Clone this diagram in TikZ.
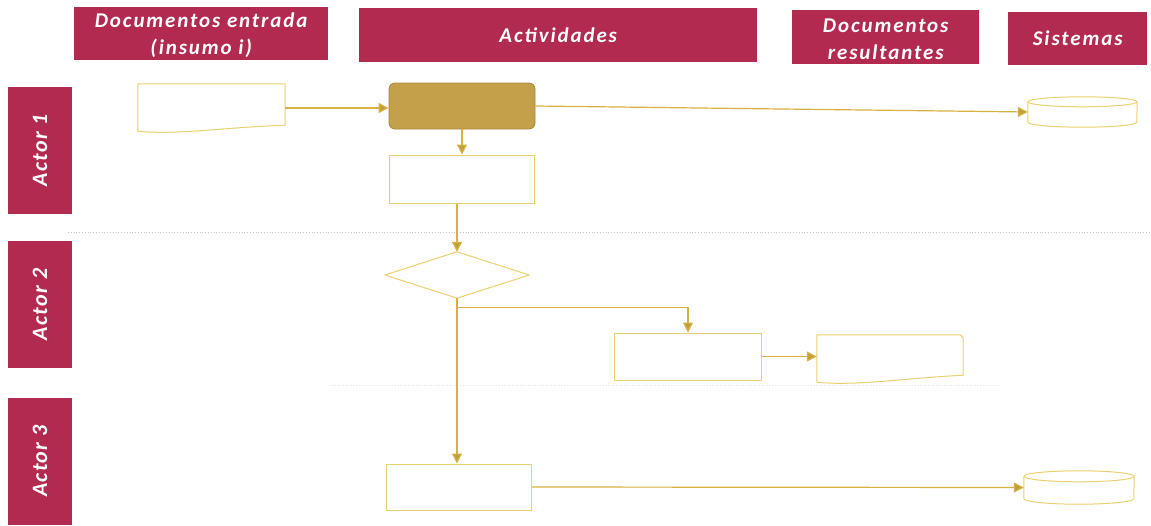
\documentclass[tikz,border=0pt]{standalone}
\usepackage{fontspec}
\setmainfont{Carlito}
\usetikzlibrary{arrows.meta}
\definecolor{hdr}{HTML}{B32A50}
\definecolor{boxc}{HTML}{EBD06E}
\definecolor{arrc}{HTML}{D8B140}
\definecolor{fillc}{HTML}{C4A04A}
\begin{document}
\begin{tikzpicture}[x=1pt,y=-1pt,
  hdrbox/.style={fill=hdr, text=white, inner sep=0pt, anchor=north west, align=center,
    font=\fontsize{21}{27}\selectfont\addfontfeatures{LetterSpace=9}\bfseries\itshape},
  actorbox/.style={fill=hdr, text=white, inner sep=0pt, rotate=90,
    minimum width=127pt, minimum height=64pt,
    font=\fontsize{22}{26}\selectfont\addfontfeatures{LetterSpace=6}\bfseries\itshape},
  procbox/.style={draw=boxc, line width=1pt, inner sep=0pt},
  shapebox/.style={inner sep=0pt},
  boxline/.style={draw=boxc, line width=1pt, line join=round},
  arr/.style={draw=arrc, line width=1.2pt, -{Triangle[length=10pt,width=10pt,fill=arrc!90!black]}},
  guide/.style={draw=gray!45, line width=0.8pt, dotted}
]
\useasboundingbox (0,0) rectangle (1151,525);

% guides
\draw[guide] (68,232) -- (1151,232);
\draw[draw=gray!20, line width=0.6pt, dotted] (330,385) -- (1000,385);

% headers
\node[hdrbox, minimum width=254pt, minimum height=53pt] (h1) at (74,7) {\rule{0pt}{17pt}Documentos entrada\\(insumo i)};
\node[hdrbox, minimum width=398pt, minimum height=54pt] (h2) at (359,8) {Actividades};
\node[hdrbox, minimum width=187pt, minimum height=54pt] (h3) at (792,10) {\rule{0pt}{17pt}Documentos\\resultantes};
\node[hdrbox, minimum width=139pt, minimum height=53pt] (h4) at (1008,12) {Sistemas};

% actors
\node[actorbox] (act1) at (40,150.5) {Actor 1};
\node[actorbox] (act2) at (40,304.5) {Actor 2};
\node[actorbox] (act3) at (40,461) {Actor 3};

% shapes
\node[draw=fillc!85!black, fill=fillc, line width=0.8pt, rounded corners=6pt, inner sep=0pt,
      minimum width=146pt, minimum height=46pt] (a1) at (462,106) {};
\node[procbox, minimum width=145pt, minimum height=48pt] (r2) at (462,179) {};
\node[procbox, minimum width=147pt, minimum height=47pt] (r3) at (688,356.5) {};
\node[procbox, minimum width=145pt, minimum height=46pt] (r4) at (459,487) {};

% decision
\node[shapebox, minimum width=144pt, minimum height=46pt] (dec) at (457,275) {};
\draw[boxline] (dec.north) -- (dec.east) -- (dec.south) -- (dec.west) -- cycle;

% documents
\node[shapebox, minimum width=147pt, minimum height=48pt] (doc1) at (211.5,108) {};
\draw[boxline] (doc1.north west) -- (doc1.north east) -- ([yshift=7pt]doc1.south east)
  .. controls ([xshift=-60pt,yshift=5pt]doc1.south east) and ([xshift=40pt,yshift=-3pt]doc1.south west)
  .. ([yshift=1pt]doc1.south west) -- cycle;
\node[shapebox, minimum width=146pt, minimum height=48pt] (doc2) at (890,359) {};
\draw[boxline] (doc2.north west) -- ([xshift=-3pt]doc2.north east) -- ([yshift=-3pt]doc2.north east)
  -- ([yshift=8pt]doc2.south east)
  .. controls ([xshift=-60pt,yshift=5pt]doc2.south east) and ([xshift=40pt,yshift=-3pt]doc2.south west)
  .. ([yshift=1pt]doc2.south west) -- cycle;

% databases
\node[shapebox, minimum width=109pt, minimum height=30pt] (c1) at (1082.5,112) {};
\draw[boxline] ([yshift=-5pt]c1.north west) -- ([yshift=5pt]c1.south west)
  arc[start angle=180, end angle=360, x radius=54.5pt, y radius=5pt]
  -- ([yshift=-5pt]c1.north east);
\draw[boxline] ([yshift=-5pt]c1.north) ellipse[x radius=54.5pt, y radius=5pt];
\node[shapebox, minimum width=110pt, minimum height=33pt] (c2) at (1079,487.5) {};
\draw[boxline] ([yshift=-5.5pt]c2.north west) -- ([yshift=5.5pt]c2.south west)
  arc[start angle=180, end angle=360, x radius=55pt, y radius=5.5pt]
  -- ([yshift=-5.5pt]c2.north east);
\draw[boxline] ([yshift=-5.5pt]c2.north) ellipse[x radius=55pt, y radius=5.5pt];

% connectors
\draw[arr] (doc1.east) -- (doc1.east -| a1.west);
\draw[arr] (a1.east) -- (c1.west);
\draw[arr] (a1.south -| r2.north) -- (r2.north);
\draw[arr] (r2.south -| dec.north) -- (dec.north);
\coordinate (br) at ([yshift=-9pt]dec.south);
\draw[arr] (dec.south) -- (dec.south |- r4.north);
\draw[arr] (br) -| (r3.north);
\draw[arr] (r3.east) -- (r3.east -| doc2.west);
\draw[arr] (r4.east) -- (c2.west);
\end{tikzpicture}
\end{document}
